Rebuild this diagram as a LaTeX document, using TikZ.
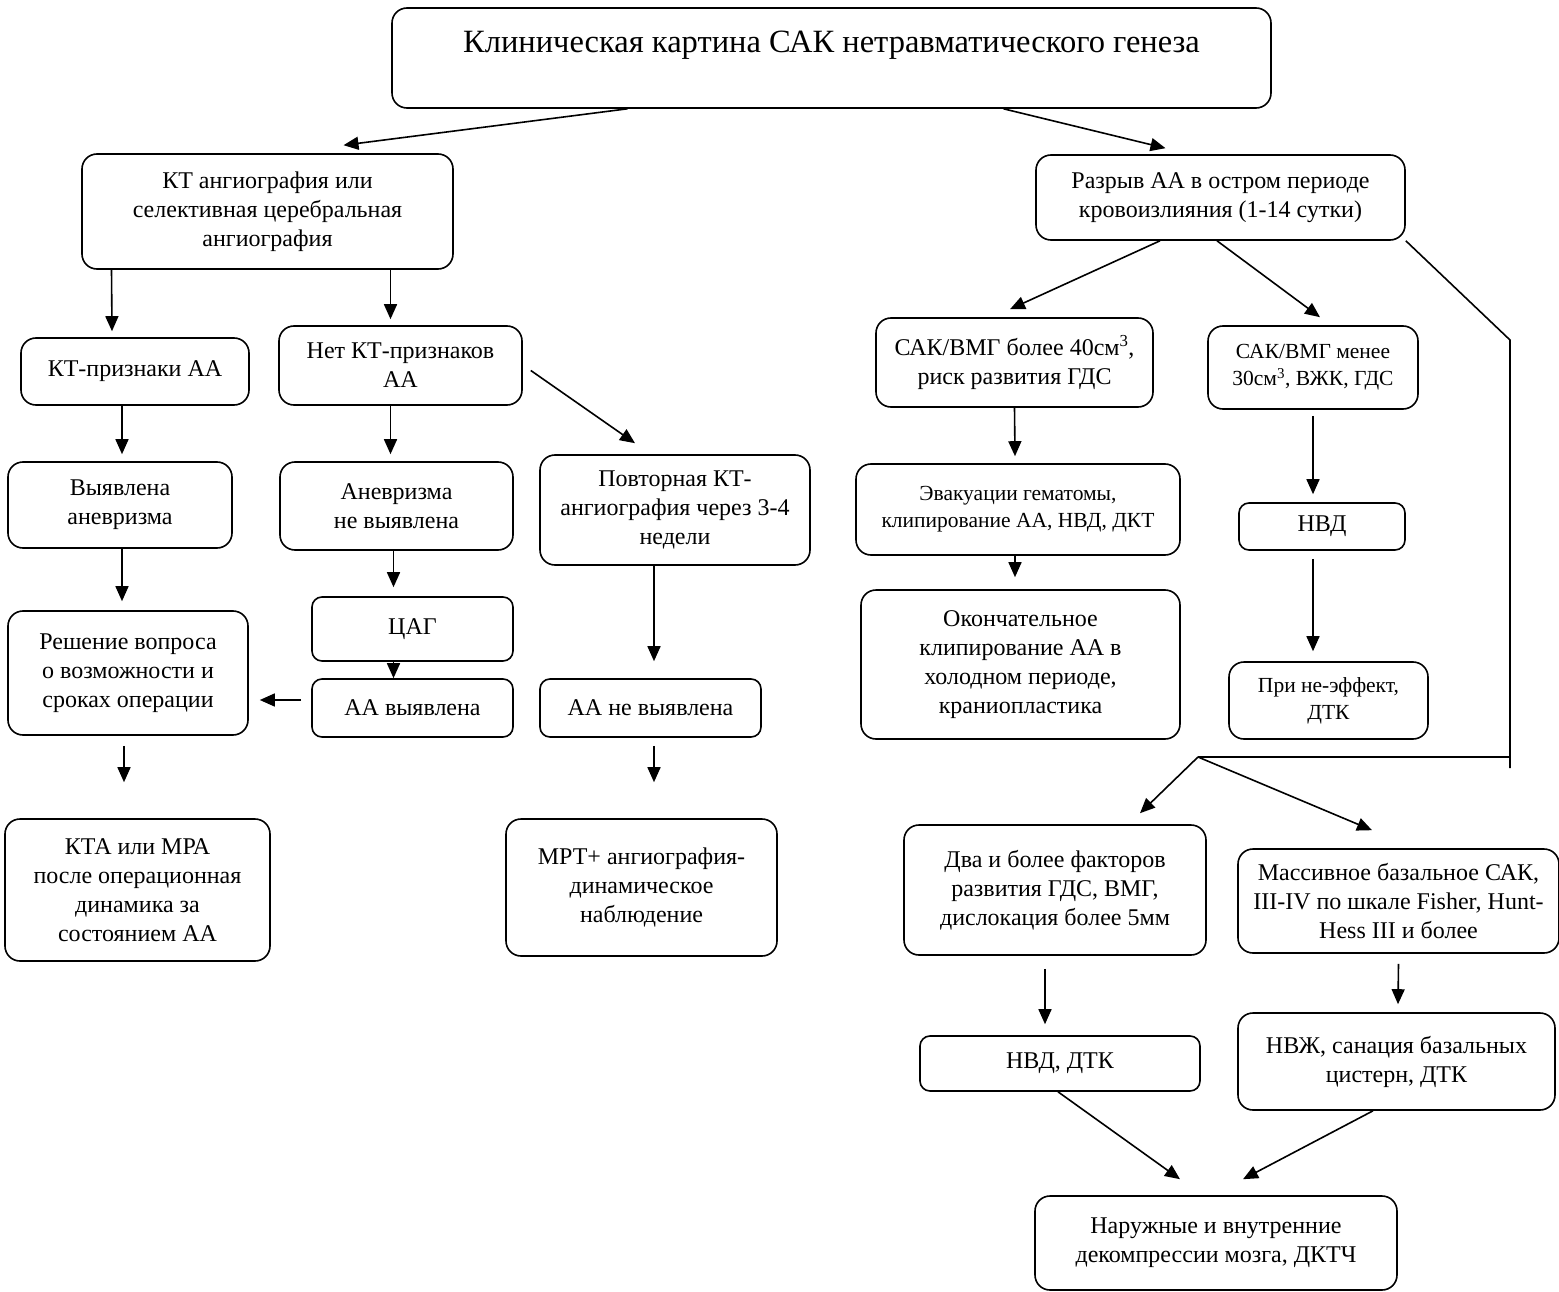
\documentclass[tikz,border=0pt]{standalone}
\usepackage{fontspec}
\setmainfont{Liberation Serif}
\usetikzlibrary{arrows.meta, calc, positioning}
\tikzset{
  blk/.style={draw, rounded corners=15pt, line width=1.6pt, align=center,
    inner sep=2pt, font=\fontsize{24}{29}\selectfont},
  blksm/.style={blk, font=\fontsize{21.5}{27}\selectfont},
  arr/.style={-{Triangle[length=15pt,width=13pt]}, line width=1.6pt},
  rail/.style={line width=1.6pt},
}
\begin{document}
\begin{tikzpicture}[x=1pt, y=-1pt]
\useasboundingbox (0,0) rectangle (1559,1292);

% ── head ──────────────────────────────────────────────
\node[blk, minimum width=879pt, inner ysep=0pt, text height=45pt, text depth=55pt,
  font=\fontsize{32.5}{38}\selectfont] (title) at (831.5,58)
  {Клиническая картина САК нетравматического генеза};

% ── left branch ───────────────────────────────────────
\node[blk, minimum width=371pt, minimum height=115pt] (kta) at (267.5,211.5)
  {КТ ангиография или\\селективная церебральная\\ангиография};
\node[blk, minimum width=228pt, minimum height=67pt] (ktp) at (135,371.5) {КТ-признаки АА};
\node[blk, minimum width=243pt, minimum height=79pt] (nokt) at (400.5,365.5) {Нет КТ-признаков\\АА};
\node[blk, minimum width=224pt, minimum height=86pt] (vyan) at (120,505) {Выявлена\\аневризма};
\node[blk, minimum width=233pt, minimum height=88pt] (anev) at (396.5,506) {Аневризма\\не выявлена};
\node[blk, minimum width=270pt, minimum height=110pt] (povt) at (675,510)
  {Повторная КТ-\\ангиография через 3-4\\недели};
\node[blk, minimum width=201pt, minimum height=64pt, rounded corners=10pt] (cag) at (412.5,629) {ЦАГ};
\node[blk, minimum width=201pt, minimum height=58pt, rounded corners=10pt] (aavy) at (412.5,708) {АА выявлена};
\node[blk, minimum width=221pt, minimum height=58pt, rounded corners=10pt] (aane) at (650.5,708) {АА не выявлена};
\node[blk, minimum width=240pt, minimum height=124pt] (resh) at (128,673)
  {Решение вопроса\\о возможности и\\сроках операции};
\node[blk, minimum width=265pt, minimum height=142pt] (kta2) at (137.5,890)
  {КТА или МРА\\после операционная\\динамика за\\состоянием АА};
\node[blk, minimum width=271pt, minimum height=137pt] (mrt) at (641.5,887.5)
  {МРТ+ ангиография-\\динамическое\\наблюдение};

% ── right branch ──────────────────────────────────────
\node[blk, minimum width=369pt, minimum height=85pt] (rupt) at (1220.5,197.5)
  {Разрыв АА в остром периоде\\кровоизлияния (1-14 сутки)};
\node[blk, minimum width=277pt, minimum height=89pt] (sak40) at (1014.5,362.5)
  {САК/ВМГ более 40см\textsuperscript{3},\\риск развития ГДС};
\node[blksm, minimum width=210pt, minimum height=83pt] (sak30) at (1313,367.5)
  {САК/ВМГ менее\\30см\textsuperscript{3}, ВЖК, ГДС};
\node[blksm, minimum width=324pt, minimum height=91pt] (evak) at (1018,509.5)
  {Эвакуации гематомы,\\клипирование АА, НВД, ДКТ};
\node[blk, minimum width=166pt, minimum height=47pt, rounded corners=10pt] (nvd) at (1322,526.5) {НВД};
\node[blk, minimum width=319pt, minimum height=149pt] (okon) at (1020.5,664.5)
  {Окончательное\\клипирование АА в\\холодном периоде,\\краниопластика};
\node[blksm, minimum width=199pt, minimum height=77pt] (prin) at (1328.5,700.5) {При не-эффект,\\ДТК};
\node[blk, minimum width=302pt, minimum height=130pt] (dva) at (1055,890)
  {Два и более факторов\\развития ГДС, ВМГ,\\дислокация более 5мм};
\node[blk, minimum width=321pt, minimum height=104pt] (mass) at (1398.5,901)
  {Массивное базальное САК,\\III-IV по шкале Fisher, Hunt-\\Hess III и более};
\node[blk, minimum width=280pt, minimum height=55pt, rounded corners=10pt] (nvdtk) at (1060,1063.5) {НВД, ДТК};
\node[blk, minimum width=317pt, minimum height=97pt] (nvzh) at (1396.5,1061.5)
  {НВЖ, санация базальных\\цистерн, ДТК};
\node[blk, minimum width=362pt, minimum height=94pt] (naru) at (1216,1243)
  {Наружные и внутренние\\декомпрессии мозга, ДКТЧ};

% ── connectors: left ──────────────────────────────────
\draw[arr] ([xshift=-204pt]title.south) -- ([xshift=76pt,yshift=8pt]kta.north);
\draw[arr] ([xshift=-156pt]kta.south) -- ([xshift=-23pt,yshift=6pt]ktp.north);
\draw[arr] ([xshift=123pt]kta.south) -- ([xshift=-10pt,yshift=6pt]nokt.north);
\draw[arr] ([xshift=8pt,yshift=-5pt]nokt.east) -- ([xshift=-40pt,yshift=11pt]povt.north);
\draw[arr] ([xshift=-13pt]ktp.south) -- ([xshift=2pt,yshift=7pt]vyan.north);
\draw[arr] ([xshift=-10pt]nokt.south) -- ([xshift=-6pt,yshift=7pt]anev.north);
\draw[arr] ([xshift=2pt]vyan.south) -- ([xshift=-6pt,yshift=9pt]resh.north);
\draw[arr] ([xshift=-3pt]anev.south) -- ([xshift=-19pt,yshift=9pt]cag.north);
\draw[arr] ([xshift=-19pt]cag.south) -- ([xshift=-19pt]aavy.north);
\draw[arr] ([xshift=-10pt,yshift=8pt]aavy.west) -- ([xshift=11pt,yshift=-27pt]resh.east);
\draw[arr] ([xshift=-21pt]povt.south) -- ([xshift=3.5pt,yshift=17pt]aane.north);
\draw[arr] ([xshift=-4pt,yshift=-10pt]resh.south) -- ([xshift=-13.5pt,yshift=36pt]kta2.north);
\draw[arr] ([xshift=3.5pt,yshift=-8pt]aane.south) -- ([xshift=12.5pt,yshift=36pt]mrt.north);

% ── connectors: right ─────────────────────────────────
\draw[arr] ([xshift=172pt]title.south) -- ([xshift=-55pt,yshift=6pt]rupt.north);
\draw[arr] ([xshift=-60.5pt]rupt.south) -- ([xshift=-4.5pt,yshift=8pt]sak40.north);
\draw[arr] ([xshift=-3.5pt]rupt.south) -- ([xshift=7pt,yshift=8pt]sak30.north);
\draw[arr] (sak40.south) -- ([xshift=-3pt,yshift=7pt]evak.north);
\draw[arr] ([xshift=-3pt]evak.south) -- ([xshift=-5.5pt,yshift=12pt]okon.north);
\draw[arr] ([yshift=-6pt]sak30.south) -- ([xshift=-9pt,yshift=8pt]nvd.north);
\draw[arr] ([xshift=-9pt,yshift=-8pt]nvd.south) -- ([xshift=-15.5pt,yshift=10pt]prin.north);

% side rail down to the lower block
\coordinate (rbend) at (1510,340);
\coordinate (rend)  at (1510,768);
\coordinate (rjoin) at (1510,757);
\coordinate (fork)  at (1198,757);
\draw[rail] (rupt.south east) -- (rbend) -- (rend);
\draw[rail] (rjoin) -- (fork);
\draw[arr] (fork) -- ([xshift=85pt,yshift=11pt]dva.north);
\draw[arr] (fork) -- ([xshift=-26.5pt,yshift=18pt]mass.north);

\draw[arr] ([xshift=-10pt,yshift=-13pt]dva.south) -- ([xshift=-15pt,yshift=11pt]nvdtk.north);
\draw[arr] ([yshift=-10pt]mass.south) -- ([xshift=1.5pt,yshift=8pt]nvzh.north);
\draw[arr] ([xshift=-2pt]nvdtk.south) -- ([xshift=-36pt,yshift=16pt]naru.north);
\draw[arr] ([xshift=-23.5pt]nvzh.south) -- ([xshift=27pt,yshift=16pt]naru.north);

\end{tikzpicture}
\end{document}
